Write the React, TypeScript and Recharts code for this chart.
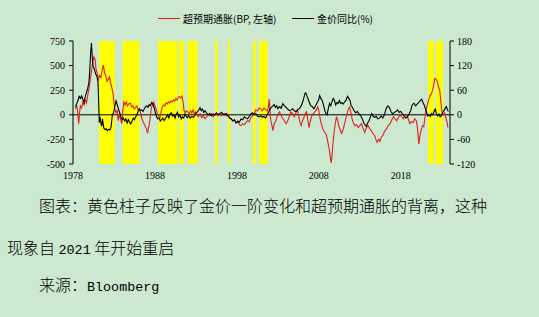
import {
  ComposedChart,
  Line,
  XAxis,
  YAxis,
  ReferenceArea,
  ReferenceLine,
} from "recharts";

// 超预期通胀 (BP, left axis): [decimal year, value]
const inflationSurprise: [number, number][] = [
  [1978.3, 60], [1978.45, 90], [1978.55, 40], [1978.7, -90], [1978.8, 20], [1978.9, 90],
  [1979.05, 70], [1979.2, 130], [1979.35, 100], [1979.5, 150], [1979.65, 120], [1979.8, 200],
  [1979.95, 260], [1980.1, 350], [1980.25, 440], [1980.4, 530], [1980.55, 590], [1980.7, 560],
  [1980.8, 470], [1980.95, 420], [1981.1, 360], [1981.25, 400], [1981.4, 380], [1981.55, 450],
  [1981.7, 505], [1981.85, 430], [1982.0, 390], [1982.15, 340], [1982.3, 360], [1982.45, 385],
  [1982.6, 320], [1982.75, 270], [1982.9, 210], [1983.0, 120], [1983.1, 60], [1983.25, 20],
  [1983.4, 50], [1983.5, -60], [1983.65, 0], [1983.8, -40], [1983.95, -90], [1984.1, 60],
  [1984.2, 130], [1984.35, 100], [1984.5, 130], [1984.65, 90], [1984.8, 110], [1985.0, 120],
  [1985.15, 80], [1985.3, 90], [1985.45, 60], [1985.6, 70], [1985.8, 90], [1985.95, 50],
  [1986.1, 60], [1986.25, 20], [1986.4, -40], [1986.6, -80], [1986.8, -110], [1986.95, -140],
  [1987.1, -185], [1987.25, -120], [1987.4, -40], [1987.55, 60], [1987.7, 100], [1987.85, 130],
  [1988.0, 90], [1988.15, 60], [1988.3, 10], [1988.45, -10], [1988.6, -30], [1988.75, 30],
  [1988.9, 80], [1989.05, 100], [1989.2, 90], [1989.35, 120], [1989.5, 110], [1989.65, 130],
  [1989.8, 120], [1989.95, 140], [1990.1, 130], [1990.25, 150], [1990.4, 140], [1990.55, 165],
  [1990.7, 150], [1990.85, 180], [1991.0, 185], [1991.15, 170], [1991.3, 190], [1991.45, 120],
  [1991.55, 40], [1991.7, 20], [1991.85, 40], [1992.0, 30], [1992.2, 10], [1992.35, 40],
  [1992.5, 20], [1992.65, 50], [1992.8, 10], [1992.95, 30], [1993.1, 0], [1993.3, -20],
  [1993.5, 10], [1993.7, -30], [1993.9, -10], [1994.1, -40], [1994.3, -20], [1994.5, 0],
  [1994.7, -10], [1994.9, 10], [1995.1, -20], [1995.3, 0], [1995.5, 20], [1995.7, -10],
  [1995.9, 10], [1996.1, -10], [1996.3, 0], [1996.5, 10], [1996.7, -10], [1996.9, 0],
  [1997.1, -30], [1997.3, -40], [1997.5, -60], [1997.7, -50], [1997.9, -80], [1998.1, -70],
  [1998.3, -100], [1998.5, -110], [1998.7, -90], [1998.9, -100], [1999.1, -80], [1999.3, -60],
  [1999.5, -70], [1999.7, -30], [1999.9, -10], [2000.1, 10], [2000.3, 50], [2000.5, 40],
  [2000.7, 70], [2000.9, 60], [2001.1, 40], [2001.3, 70], [2001.5, 50], [2001.7, 40],
  [2001.85, 80], [2001.95, 160], [2002.1, -40], [2002.25, -100], [2002.4, -160], [2002.55, -90],
  [2002.75, -60], [2002.9, -20], [2003.05, 10], [2003.2, 30], [2003.4, -10], [2003.6, -40],
  [2003.8, -60], [2004.0, -90], [2004.15, -70], [2004.3, -40], [2004.45, 0], [2004.6, 30],
  [2004.8, 10], [2005.0, -20], [2005.2, 20], [2005.4, 50], [2005.55, -20], [2005.7, -80],
  [2005.85, -110], [2006.0, -60], [2006.2, -20], [2006.35, 10], [2006.5, 30], [2006.65, -50],
  [2006.8, -130], [2006.95, -70], [2007.1, -20], [2007.3, 10], [2007.5, 30], [2007.7, 50],
  [2007.85, 80], [2008.0, 40], [2008.2, -60], [2008.4, -120], [2008.55, -160], [2008.75, -180],
  [2008.9, -200], [2009.05, -260], [2009.2, -320], [2009.35, -400], [2009.5, -490], [2009.6, -420],
  [2009.7, -310], [2009.85, -180], [2010.0, -90], [2010.15, -20], [2010.3, -60], [2010.45, -120],
  [2010.6, -150], [2010.75, -190], [2010.9, -170], [2011.05, -120], [2011.2, -70], [2011.4, 0],
  [2011.6, 60], [2011.75, 80], [2011.9, 20], [2012.05, -40], [2012.2, -80], [2012.4, -110],
  [2012.6, -100], [2012.8, -130], [2013.0, -110], [2013.2, -90], [2013.4, -140], [2013.6, -180],
  [2013.8, -130], [2014.0, -110], [2014.2, -140], [2014.4, -160], [2014.6, -190], [2014.8, -210],
  [2015.0, -260], [2015.1, -280], [2015.3, -250], [2015.45, -270], [2015.6, -230], [2015.8, -210],
  [2016.0, -170], [2016.2, -150], [2016.45, -110], [2016.7, -90], [2016.9, -50], [2017.1, -20],
  [2017.3, -40], [2017.5, -60], [2017.7, -30], [2017.9, 0], [2018.1, -20], [2018.3, -40],
  [2018.5, -10], [2018.7, 0], [2018.9, -40], [2019.1, -90], [2019.3, -70], [2019.5, -80],
  [2019.7, -40], [2019.9, -60], [2020.05, -150], [2020.2, -295], [2020.35, -200], [2020.5, -150],
  [2020.65, -110], [2020.8, -120], [2020.95, -20], [2021.1, 60], [2021.25, 110], [2021.4, 150],
  [2021.55, 190], [2021.7, 210], [2021.85, 240], [2022.0, 300], [2022.15, 370], [2022.3, 360],
  [2022.45, 340], [2022.6, 280], [2022.75, 250], [2022.9, 120], [2023.05, 20], [2023.2, 0],
  [2023.35, 20], [2023.5, -30], [2023.65, -80], [2023.75, -130],
];

// 金价同比 (%, right axis): [decimal year, value]
const goldYoY: [number, number][] = [
  [1978.3, 20], [1978.45, 27], [1978.6, 35], [1978.75, 45], [1978.9, 40], [1979.05, 46],
  [1979.2, 38], [1979.35, 30], [1979.5, 45], [1979.65, 55], [1979.8, 65], [1979.95, 80],
  [1980.05, 110], [1980.15, 150], [1980.25, 175], [1980.35, 140], [1980.45, 118], [1980.6, 112],
  [1980.75, 100], [1980.9, 95], [1981.05, 80], [1981.15, 20], [1981.2, -19], [1981.3, -5],
  [1981.4, -20], [1981.5, -28], [1981.6, -10], [1981.75, -32], [1981.9, -36], [1982.05, -34],
  [1982.2, -39], [1982.35, -35], [1982.5, -37], [1982.65, -30], [1982.8, 0], [1982.95, 5],
  [1983.1, 20], [1983.25, 34], [1983.4, 25], [1983.55, 14], [1983.7, 5], [1983.85, -5],
  [1984.0, -12], [1984.15, -8], [1984.3, -15], [1984.45, -10], [1984.6, -20], [1984.75, -12],
  [1984.9, -18], [1985.05, -22], [1985.2, -15], [1985.35, -8], [1985.5, -12], [1985.65, -5],
  [1985.8, 0], [1985.95, 8], [1986.1, 15], [1986.25, 10], [1986.4, 12], [1986.55, 8],
  [1986.7, 15], [1986.85, 20], [1987.0, 22], [1987.15, 18], [1987.3, 25], [1987.45, 22],
  [1987.6, 30], [1987.75, 26], [1987.9, 18], [1988.05, 5], [1988.2, -5], [1988.35, -10],
  [1988.5, -8], [1988.65, -15], [1988.8, -12], [1988.95, -8], [1989.1, -14], [1989.25, -10],
  [1989.4, -5], [1989.55, 0], [1989.7, -8], [1989.85, 3], [1990.0, 5], [1990.15, -3],
  [1990.3, 0], [1990.45, -8], [1990.6, 2], [1990.75, 6], [1990.9, -5], [1991.05, 0],
  [1991.2, -10], [1991.35, -5], [1991.5, -8], [1991.65, 2], [1991.8, -3], [1991.95, -7],
  [1992.1, -2], [1992.3, -8], [1992.5, -4], [1992.7, -6], [1992.9, 0], [1993.05, 5],
  [1993.2, 8], [1993.35, 12], [1993.5, 17], [1993.65, 10], [1993.8, 14], [1993.95, 6],
  [1994.1, 10], [1994.3, 4], [1994.5, 0], [1994.7, 3], [1994.9, -2], [1995.1, 2],
  [1995.3, 0], [1995.5, 4], [1995.7, 1], [1995.9, 3], [1996.1, 6], [1996.3, 2],
  [1996.5, 0], [1996.7, 3], [1996.9, -2], [1997.1, -8], [1997.3, -10], [1997.5, -15],
  [1997.7, -12], [1997.9, -20], [1998.1, -15], [1998.3, -18], [1998.5, -10], [1998.7, -12],
  [1998.9, -5], [1999.1, -8], [1999.3, -10], [1999.5, -4], [1999.7, 2], [1999.9, 5],
  [2000.1, 0], [2000.3, 3], [2000.5, -3], [2000.7, -5], [2000.9, -2], [2001.1, -6],
  [2001.3, -4], [2001.5, -8], [2001.7, 0], [2001.9, 8], [2002.05, 15], [2002.2, 18],
  [2002.4, 22], [2002.55, 25], [2002.7, 18], [2002.85, 22], [2003.0, 15], [2003.2, 20],
  [2003.4, 16], [2003.6, 27], [2003.8, 22], [2004.0, 18], [2004.2, 14], [2004.4, 10],
  [2004.6, 12], [2004.8, 15], [2005.0, 10], [2005.2, 8], [2005.4, 12], [2005.6, 15],
  [2005.8, 20], [2006.0, 30], [2006.15, 40], [2006.3, 52], [2006.4, 54], [2006.55, 45],
  [2006.7, 38], [2006.85, 30], [2007.0, 22], [2007.2, 20], [2007.4, 15], [2007.6, 22],
  [2007.8, 30], [2007.95, 35], [2008.1, 47], [2008.25, 40], [2008.4, 35], [2008.55, 25],
  [2008.7, 12], [2008.85, 3], [2009.0, 0], [2009.15, 15], [2009.3, 28], [2009.45, 22],
  [2009.6, 32], [2009.75, 40], [2009.9, 35], [2010.05, 24], [2010.2, 30], [2010.35, 28],
  [2010.5, 35], [2010.65, 28], [2010.8, 30], [2010.95, 26], [2011.1, 30], [2011.3, 35],
  [2011.5, 45], [2011.65, 40], [2011.8, 35], [2011.95, 22], [2012.1, 18], [2012.3, 10],
  [2012.5, 5], [2012.7, 8], [2012.9, 2], [2013.1, -2], [2013.3, -10], [2013.5, -20],
  [2013.65, -25], [2013.8, -28], [2013.95, -20], [2014.1, -15], [2014.3, -5], [2014.45, 3],
  [2014.6, -3], [2014.8, -6], [2015.0, -4], [2015.2, -10], [2015.4, -8], [2015.6, -3],
  [2015.8, -8], [2016.0, 0], [2016.2, 15], [2016.4, 22], [2016.6, 18], [2016.8, 8],
  [2017.0, 2], [2017.2, 6], [2017.4, 8], [2017.6, 12], [2017.8, 6], [2018.0, 8],
  [2018.2, 2], [2018.4, -3], [2018.6, -8], [2018.8, -5], [2019.0, 2], [2019.2, 10],
  [2019.4, 25], [2019.6, 28], [2019.8, 22], [2020.0, 26], [2020.2, 30], [2020.4, 35],
  [2020.55, 38], [2020.7, 30], [2020.85, 24], [2021.0, 15], [2021.15, 5], [2021.3, -3],
  [2021.45, 0], [2021.6, -4], [2021.75, 3], [2021.9, 0], [2022.05, 8], [2022.2, 14],
  [2022.35, 2], [2022.5, -3], [2022.65, 2], [2022.8, -5], [2022.95, -2], [2023.1, 5],
  [2023.25, 10], [2023.4, 15], [2023.55, 20], [2023.7, 12], [2023.8, 8],
];

// yellow divergence periods [start, end]
const divergencePeriods: [number, number][] = [
  [1981.2, 1983.1], [1984.05, 1986.1], [1988.4, 1990.75], [1990.95, 1991.55],
  [1992.0, 1993.2], [1995.35, 1995.65], [1996.9, 1997.15], [1999.95, 2000.3],
  [2000.7, 2001.75], [2021.33, 2022.05], [2022.27, 2023.15],
];

const yearTicks = [1978, 1988, 1998, 2008, 2018];
const leftTicks = [-500, -250, 0, 250, 500, 750];
const rightTicks = [-120, -60, 0, 60, 120, 180];

const redData = inflationSurprise.map(([t, v]) => ({ t, v }));
const goldData = goldYoY.map(([t, v]) => ({ t, v }));

const BG = "#CCE8CF";
const tickStyle = { fill: "#000", fontSize: 10, fontFamily: "'Liberation Serif', serif" };
const cjk = "'Noto Sans CJK SC', sans-serif";
const mono = { fontFamily: "'Liberation Mono', monospace", fontSize: 13.4, fontWeight: 400 };
const captionStyle = {
  position: "absolute" as const,
  fontSize: 16,
  fontFamily: cjk,
  fontWeight: 300,
  lineHeight: "18px",
  whiteSpace: "nowrap" as const,
};

export default function App() {
  return (
    <div
      style={{
        position: "fixed",
        left: 0,
        top: 0,
        width: 539,
        height: 317,
        background: BG,
        overflow: "hidden",
        color: "#000",
      }}
    >
      {/* legend */}
      <div style={{ position: "absolute", left: 158, top: 18, width: 22, borderTop: "1.2px solid #E02020" }} />
      <div style={{ position: "absolute", left: 183, top: 11.5, fontSize: 10, fontFamily: cjk, lineHeight: "14px" }}>
        超预期通胀(BP, 左轴)
      </div>
      <div style={{ position: "absolute", left: 292, top: 18, width: 22, borderTop: "1.2px solid #000" }} />
      <div style={{ position: "absolute", left: 317, top: 11.5, fontSize: 10, fontFamily: cjk, lineHeight: "14px" }}>
        金价同比(%)
      </div>

      <div style={{ position: "absolute", left: 0, top: 0 }}>
        <ComposedChart
          width={539}
          height={185}
          margin={{ top: 41, right: 49, left: 33, bottom: 1 }}
        >
          <XAxis
            dataKey="t"
            type="number"
            domain={[1978, 2024]}
            ticks={yearTicks}
            allowDataOverflow
            axisLine={false}
            tickLine={false}
            tick={tickStyle}
            height={20}
            interval={0}
          />
          <YAxis
            yAxisId="left"
            domain={[-500, 750]}
            ticks={leftTicks}
            allowDataOverflow
            width={40}
            tick={tickStyle}
            tickSize={4}
            tickMargin={4}
            axisLine={{ stroke: "#000" }}
            tickLine={{ stroke: "#000" }}
            interval={0}
          />
          <YAxis
            yAxisId="right"
            orientation="right"
            domain={[-120, 180]}
            ticks={rightTicks}
            allowDataOverflow
            width={40}
            tick={tickStyle}
            tickSize={4}
            tickMargin={3}
            axisLine={{ stroke: "#000" }}
            tickLine={{ stroke: "#000" }}
            interval={0}
          />
          {divergencePeriods.map(([a, b], i) => (
            <ReferenceArea
              key={i}
              yAxisId="left"
              x1={a}
              x2={b}
              y1={-500}
              y2={750}
              fill="#FFFF00"
              fillOpacity={1}
              stroke="none"
            />
          ))}
          <ReferenceLine yAxisId="left" y={0} stroke="#000" strokeWidth={1} />
          <Line
            yAxisId="left"
            data={redData}
            dataKey="v"
            type="linear"
            stroke="#E02020"
            strokeWidth={1.1}
            dot={false}
            isAnimationActive={false}
          />
          <Line
            yAxisId="right"
            data={goldData}
            dataKey="v"
            type="linear"
            stroke="#000"
            strokeWidth={1.1}
            dot={false}
            isAnimationActive={false}
          />
        </ComposedChart>
      </div>

      {/* caption */}
      <div style={{ ...captionStyle, left: 39, top: 196 }}>
        图表：黄色柱子反映了金价一阶变化和超预期通胀的背离，这种
      </div>
      <div style={{ ...captionStyle, left: 7, top: 238 }}>
        现象自 <span style={mono}>2021</span> 年开始重启
      </div>
      <div style={{ ...captionStyle, left: 39, top: 275 }}>
        来源：<span style={mono}>Bloomberg</span>
      </div>
    </div>
  );
}
